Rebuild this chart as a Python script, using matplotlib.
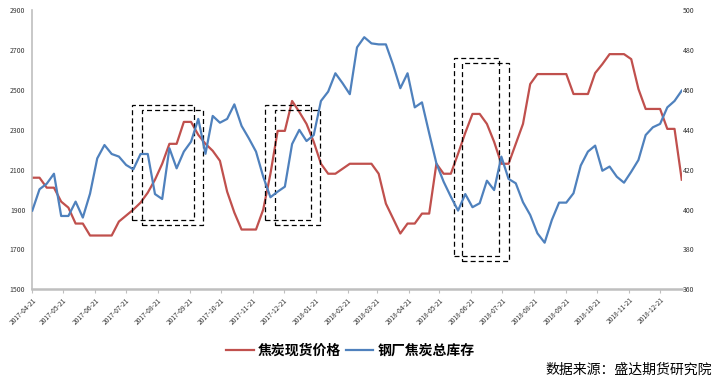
import pandas as pd
import matplotlib.pyplot as plt
from matplotlib.patches import Rectangle

plt.rcParams['font.family'] = ['Noto Sans CJK SC', 'DejaVu Sans']

# weekly data, 2017-04-21 onwards
start = "2017-04-21"
n_weeks = 91

# 焦炭现货价格 (left axis)
price = [2060, 2060, 2010, 2010, 1940, 1910, 1830, 1830, 1770, 1770,
         1770, 1770, 1840, 1870, 1900, 1935, 1985, 2050, 2130, 2230,
         2230, 2340, 2340, 2275, 2230, 2195, 2145, 1990, 1885, 1800,
         1800, 1800, 1900, 2080, 2295, 2295, 2445, 2390, 2330, 2240,
         2130, 2080, 2080, 2105, 2130, 2130, 2130, 2130, 2080, 1930,
         1855, 1780, 1830, 1830, 1880, 1880, 2130, 2080, 2080, 2180,
         2285, 2380, 2380, 2330, 2240, 2130, 2130, 2230, 2330, 2530,
         2580, 2580, 2580, 2580, 2580, 2480, 2480, 2480, 2585, 2630,
         2680, 2680, 2680, 2655, 2505, 2405, 2405, 2405, 2305, 2305, 2050]

# 钢厂焦炭总库存 (right axis)
stock = [399.5, 410.2, 413.0, 418.0, 396.8, 396.8, 404.0, 396.0, 408.0, 425.7,
         432.4, 427.9, 426.6, 422.4, 420.2, 427.9, 427.9, 407.8, 405.3, 430.8,
         420.7, 429.1, 434.1, 445.5, 428.0, 447.0, 443.6, 445.5, 452.8, 442.0,
         435.8, 429.1, 416.5, 406.2, 409.0, 411.5, 432.9, 440.0, 434.4, 437.4,
         454.5, 459.2, 468.4, 463.4, 457.9, 481.4, 486.5, 483.4, 482.9, 482.9,
         472.6, 460.9, 468.4, 451.3, 453.8, 438.3, 423.2, 414.0, 406.5, 399.5,
         407.8, 401.2, 403.2, 414.5, 409.8, 426.6, 415.4, 413.2, 403.7, 397.3,
         388.1, 383.4, 394.8, 403.5, 403.5, 408.2, 422.1, 429.1, 432.1, 419.5,
         421.6, 416.5, 413.5, 419.0, 424.9, 437.4, 441.3, 443.0, 451.3, 454.5, 459.7]

# dashed boxes: (x0, x1, y_low, y_high) in left-axis units
boxes = [("2017-07-27", "2017-09-25", 1848, 2426),
         ("2017-08-05", "2017-10-04", 1823, 2401),
         ("2017-12-03", "2018-01-16", 1848, 2426),
         ("2017-12-12", "2018-01-25", 1823, 2401),
         ("2018-06-04", "2018-07-18", 1667, 2661),
         ("2018-06-12", "2018-07-27", 1643, 2636)]

dates = pd.date_range(start, periods=n_weeks, freq="7D")
ticks = [pd.Timestamp(start) + pd.DateOffset(months=k) for k in range(21)]

red = "#C0504D"
blue = "#4F81BD"
grey = "#BFBFBF"

fig = plt.figure(figsize=(7.18, 3.87), dpi=100)
ax = fig.add_axes([0.045, 0.2524, 0.9045, 0.721])
ax2 = ax.twinx()

ax.plot(dates, price, color=red, lw=1.6, label="焦炭现货价格")
ax2.plot(dates, stock, color=blue, lw=1.6, label="钢厂焦炭总库存")

for x0, x1, y0, y1 in boxes:
    d0, d1 = pd.Timestamp(x0), pd.Timestamp(x1)
    ax.add_patch(Rectangle((d0, y0), d1 - d0, y1 - y0, fill=False,
                           edgecolor="black", lw=0.9, ls=(0, (4, 2.5)), zorder=5))

ax.set_xlim(dates[0], dates[-1])
ax.set_ylim(1500, 2900)
ax2.set_ylim(360, 500)
ax.set_yticks(range(1500, 2901, 200))
ax2.set_yticks(range(360, 501, 20))
ax.set_xticks(ticks)
ax.set_xticklabels([t.strftime("%Y-%m-%d") for t in ticks], rotation=45,
                   ha="right", rotation_mode="anchor", fontsize=4.8, color="#333333")

ax.tick_params(axis="y", length=0, pad=5, labelsize=5, labelcolor="#333333")
ax2.tick_params(axis="y", length=0, pad=1, labelsize=5, labelcolor="#333333")
ax.tick_params(axis="x", length=3, color=grey, pad=2)

for a in (ax, ax2):
    a.spines["top"].set_visible(False)
    a.spines["right"].set_visible(False)
    a.spines["left"].set_visible(False)
    a.spines["bottom"].set_visible(False)
ax.spines["left"].set_visible(True)
ax.spines["left"].set_color(grey)
ax.spines["left"].set_linewidth(1.2)
ax.spines["bottom"].set_visible(True)
ax.spines["bottom"].set_color(grey)
ax.spines["bottom"].set_linewidth(1.8)

h1, l1 = ax.get_legend_handles_labels()
h2, l2 = ax2.get_legend_handles_labels()
fig.legend(h1 + h2, l1 + l2, loc="center", bbox_to_anchor=(0.488, 0.093), ncol=2,
           frameon=False, prop={"size": 10, "weight": "bold"},
           handlelength=2.0, handletextpad=0.3, columnspacing=0.3)

fig.text(0.991, 0.044, "数据来源：盛达期货研究院", ha="right", va="center", fontsize=10)

plt.savefig("out.png", dpi=100)
